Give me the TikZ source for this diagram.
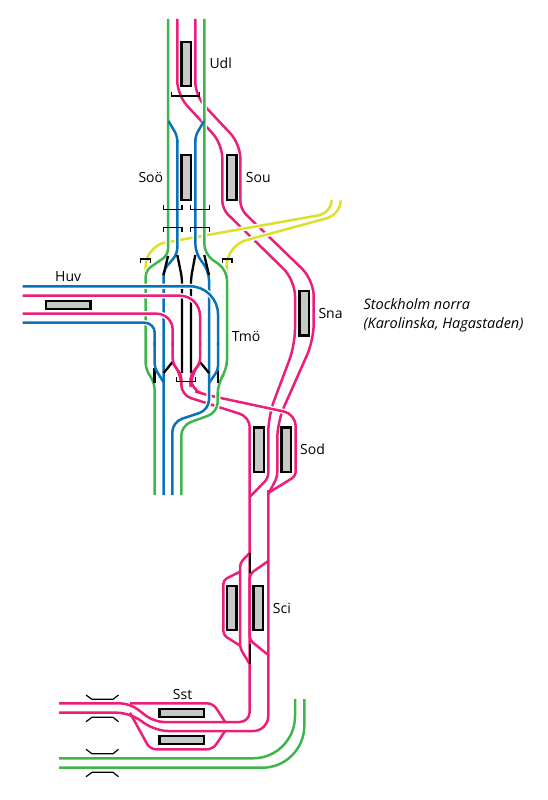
\documentclass[tikz,border=0pt]{standalone}
\usepackage{fontspec}
\setmainfont{Open Sans}
\usepackage{xcolor}
\usepackage{tikz}
\definecolor{trackpink}{HTML}{EB1E79}
\definecolor{trackgreen}{HTML}{3FB54E}
\definecolor{trackblue}{HTML}{0B72BA}
\definecolor{trackyellow}{HTML}{DEDE2C}
\definecolor{platgray}{HTML}{C8C8C8}

\begin{document}
\begin{tikzpicture}[
  x=1pt, y=-1pt,
  track/.style={line width=2.5pt, rounded corners=#1},
  track/.default=6,
  cased/.style={preaction={draw=white, line width=5.2pt}},
  blackline/.style={line width=2.3pt},
  platv/.style={draw=black, line width=2.2pt, fill=platgray, minimum width=9.5pt, minimum height=44.5pt, inner sep=0pt},
  plath/.style={draw=black, line width=2.2pt, fill=platgray, minimum width=44.5pt, minimum height=8pt, inner sep=0pt},
  bracket/.style={draw=black, line width=1.2pt},
  every node/.style={font=\fontsize{14}{19}\selectfont},
  lbl/.style={anchor=west, inner sep=0pt},
]
  \useasboundingbox (0,0) rectangle (547,800);

  % pink lines from Udl through Sou and Sna
  \draw[track=14, trackpink] (177.3,19) -- (177.3,95) -- (222.3,144) [rounded corners=8] -- (222.3,209) [rounded corners=16] -- (295,280) -- (295,345) -- (268.3,416) [rounded corners=5] -- (268.3,478) -- (249.7,497);
  \draw[track=14, trackpink] (195.3,19) -- (195.3,96) -- (240.3,144) [rounded corners=8] -- (240.3,209) [rounded corners=16] -- (313.7,280) -- (313.7,340) -- (277.3,422) [rounded corners=5] -- (277.3,477) -- (268.3,494);

  % pink lines leaving Tmo towards Sod
  \draw[track=10, trackpink] (172.7,363) -- (181.3,375) -- (181.3,395) -- (249.7,417) -- (249.7,722) -- (154,722) -- (130,703.3) -- (59,703.3);
  \draw[track=12, trackpink, cased] (200,363) -- (190.7,375) -- (190.7,390) -- (206.7,395) -- (295.7,414) -- (295.7,440);
  \draw[track=4, trackpink] (295.7,440) -- (295.7,476) -- (268.3,493);
  \draw[track=15, trackpink] (268.3,490) -- (268.3,731) -- (153,731) -- (132,712.7) -- (59,712.7);

  % Sci
  \draw[track=4, trackpink] (249.7,553) -- (240,563) -- (240,648) -- (249.7,664);
  \draw[track=4, trackpink] (240.5,571.5) -- (223.3,580) -- (223.3,635) -- (240.5,646);
  \draw[track=4, trackpink] (268.3,561) -- (249.7,574) -- (249.7,640) -- (268.3,655);
  \draw[blackline] (249.7,553) -- (249.7,573);
  \draw[blackline] (249.7,644) -- (249.7,664);

  % Sst
  \draw[track=6, trackpink] (130,703.3) -- (213,703.3) -- (225,721.7);
  \draw[track=6, trackpink] (130,712.7) -- (150,749.3) -- (213,749.3) -- (225,731);

  % yellow lines
  \draw[track=18, trackyellow, cased] (331.7,200.7) [rounded corners=13] -- (331.7,213) [rounded corners=20] -- (145.7,246) -- (145.7,275);
  \draw[track=18, trackyellow, cased] (340.7,200.7) [rounded corners=14] -- (340.7,214.4) [rounded corners=20] -- (226.7,245.5) -- (226.7,275);

  % green and blue through Soo and Tmo
  \draw[track, trackgreen, cased] (168,19) -- (168,255) -- (145.7,270.5) -- (145.7,369) -- (154.5,383) -- (154.5,495);
  \draw[track, trackblue, cased] (177.3,140) -- (177.3,254) -- (163.5,270) -- (163.5,495);
  \draw[track=5, trackblue] (168.5,121) -- (177.3,136) -- (177.3,142);
  \draw[track=10, trackgreen, cased] (204.3,19) -- (204.3,254) -- (227,270) -- (227,370) -- (217.7,383) -- (217.7,412.2) -- (181.3,425.5) -- (181.3,495);
  \draw[track=10, trackblue, cased] (195.3,140) -- (195.3,254) -- (209,270) -- (209,409.8) -- (172.3,422) -- (172.3,495);
  \draw[track=5, trackblue] (204,121) -- (195.3,136) -- (195.3,142);

  % black connecting tracks
  \draw[blackline] (168,256) -- (163.5,275);
  \draw[blackline, rounded corners=5] (177.3,255) -- (182,278) -- (182,373);
  \draw[blackline, rounded corners=5] (195.3,255) -- (191,278) -- (191,373);
  \draw[blackline] (204.3,255) -- (209,275);
  \draw[blackline] (154.6,368) -- (154.6,383);
  \draw[blackline] (163.7,373) -- (172.5,362);
  \draw[blackline] (200,362) -- (209,373);
  \draw[blackline] (217.7,370) -- (217.7,383);

  % Huv lines cross on top
  \draw[track=28, trackblue, cased] (22.7,286.3) -- (218,286.3) -- (218,345);
  \draw[track=20, trackpink, cased] (22.7,295.7) -- (200,295.7) -- (200,345);
  \draw[track=16, trackpink, cased] (22.7,313.7) -- (172.7,313.7) -- (172.7,345);
  \draw[track=10, trackblue, cased] (22.7,322.7) -- (154.7,322.7) -- (154.7,345);
  \draw[track=4, trackblue] (218,343) -- (218,370) -- (209,383);
  \draw[track=4, trackpink] (200,343) -- (200,363) -- (190.7,375) -- (190.7,385);
  \draw[track=4, trackpink] (172.7,343) -- (172.7,363) -- (181.3,375) -- (181.3,385);
  \draw[track=4, trackblue] (154.7,343) -- (154.7,368) -- (163.5,382);

  % green lines at Sst
  \draw[track=42, trackgreen] (59,758.3) -- (295,758.3) -- (295,699);
  \draw[track=42, trackgreen] (59,767.7) -- (304.3,767.7) -- (304.3,699);

  % platforms
  \node[platv] (udlplat) at (186.3,64) {};
  \node[platv] (sooplat) at (186.3,177.6) {};
  \node[platv] (souplat) at (231.7,177.6) {};
  \node[platv] (snaplat) at (304.3,313.3) {};
  \node[platv] (sodplata) at (259,449.7) {};
  \node[platv] (sodplatb) at (286.3,449.7) {};
  \node[platv] (sciplata) at (231.7,608) {};
  \node[platv] (sciplatb) at (258.3,608) {};
  \node[plath] (huvplat) at (68.3,305) {};
  \node[plath] (sstplata) at (181.7,713) {};
  \node[plath] (sstplatb) at (181.7,740) {};

  % brackets
  \foreach \xa/\xb/\ya/\yb in {171.7/199.3/91.7/96, 163.3/182/205/209.3, 190.3/209.3/205/209.3, 163.3/182/231.7/227.3, 190.3/209.3/231.7/227.3, 140.7/150.3/263.3/259, 222.3/232/263.3/259, 176.7/195.7/377.3/381.7} {
    \draw[bracket] (\xa,\ya) -- (\xa,\yb) -- (\xb,\yb) -- (\xb,\ya);
  }
  \foreach \ya/\yb in {695/699.3, 721.7/717.3, 749.3/753.7, 776.7/772.3} {
    \draw[bracket] (86,\ya) -- (92,\yb) -- (113,\yb) -- (118.5,\ya);
  }

  % labels
  \node[lbl] (udl) at (209.3,63.3) {Udl};
  \node[lbl] (soo) at (138.3,177) {Soö};
  \node[lbl] (sou) at (245.7,177) {Sou};
  \node[lbl] (huv) at (55,276.7) {Huv};
  \node[lbl] (tmo) at (231.7,336) {Tmö};
  \node[lbl] (sna) at (318.3,313) {Sna};
  \node[lbl] (sod) at (300,449) {Sod};
  \node[lbl] (sci) at (272.7,608) {Sci};
  \node[lbl] (sst) at (172.7,694) {Sst};
  \node[lbl, align=left, font=\fontsize{14.5}{19}\selectfont\itshape] (norra) at (363.3,315) {Stockholm norra\\(Karolinska, Hagastaden)};
\end{tikzpicture}
\end{document}
